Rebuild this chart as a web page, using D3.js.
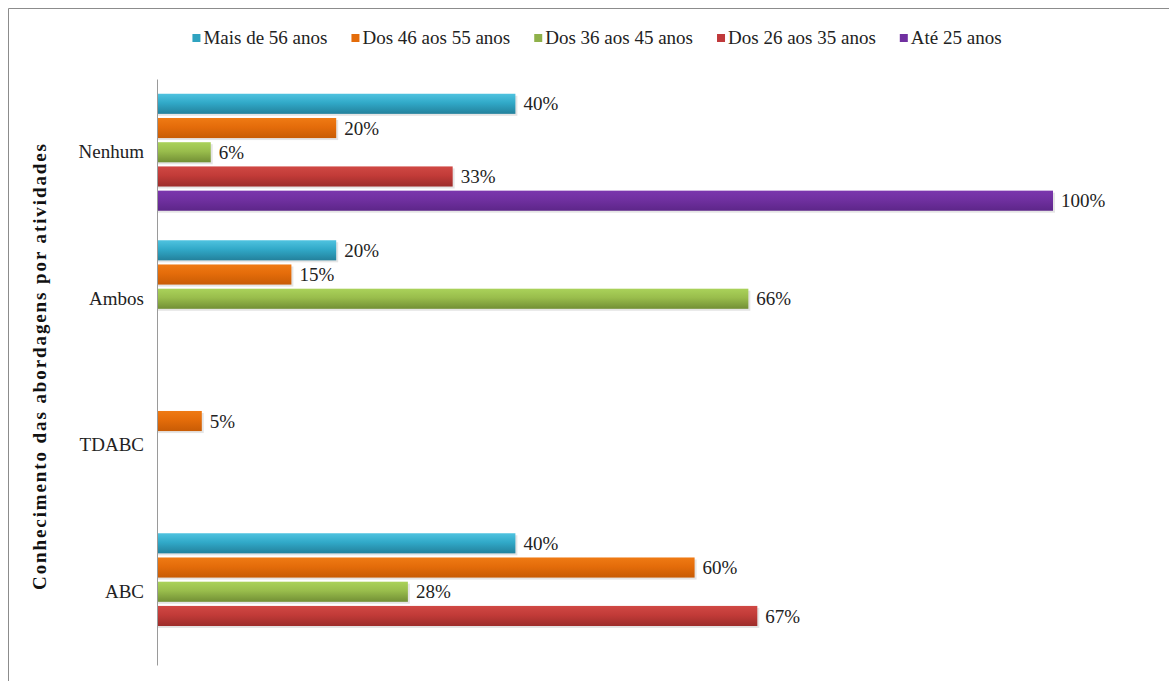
<!DOCTYPE html>
<html>
<head>
<meta charset="utf-8">
<script src="https://cdn.jsdelivr.net/npm/d3@7"></script>
</head>
<body style="margin:0">
<div style="font-family:'Liberation Serif';position:absolute;left:-5000px;top:0;visibility:hidden">Aa <b>Aa</b></div>
<svg id="chart" width="1169" height="681" font-family="Liberation Serif"></svg>
<script>
const categories = ['Nenhum', 'Ambos', 'TDABC', 'ABC']
const seriesNames = ['Mais de 56 anos', 'Dos 46 aos 55 anos', 'Dos 36 aos 45 anos', 'Dos 26 aos 35 anos', 'Até 25 anos']
// values per series, in the order of categories (null = no bar)
const mais56 = [0.40, 0.20, null, 0.40]
const dos46a55 = [0.20, 0.15, 0.05, 0.60]
const dos36a45 = [0.06, 0.66, null, 0.28]
const dos26a35 = [0.33, null, null, 0.67]
const ate25 = [1.00, null, null, null]
const seriesValues = [mais56, dos46a55, dos36a45, dos26a35, ate25]
const axisTitle = 'Conhecimento das abordagens por atividades'

const FONT = 'Liberation Serif'

const colors = [
  { top: '#4fc3e0', mid: '#31a9c8', bot: '#23819c', key: '#2fa3c0' },
  { top: '#ef7a14', mid: '#e46c0a', bot: '#c85c05', key: '#e46c0a' },
  { top: '#aad25a', mid: '#99bd4c', bot: '#728f35', key: '#8fb14a' },
  { top: '#d04844', mid: '#c23b38', bot: '#9c2c2a', key: '#c0393b' },
  { top: '#7b36ad', mid: '#7030a0', bot: '#5d2689', key: '#7030a0' }
]

const width = 1169, height = 681

const svg = d3.select('#chart')

const defs = svg.append('defs')
colors.forEach(function (c, i) {
  const g = defs.append('linearGradient').attr('id', 'grad' + i)
    .attr('x1', 0).attr('y1', 0).attr('x2', 0).attr('y2', 1)
  g.append('stop').attr('offset', '0%').attr('stop-color', c.top)
  g.append('stop').attr('offset', '45%').attr('stop-color', c.mid)
  g.append('stop').attr('offset', '100%').attr('stop-color', c.bot)
})

// chart frame (only top and left edges are visible)
svg.append('path')
  .attr('d', 'M8.5,' + height + 'V8.5H' + width)
  .attr('fill', 'none')
  .attr('stroke', '#8c8c8c')
  .attr('stroke-width', 1)

const x = d3.scaleLinear().domain([0, 1]).range([157, 1053])
const y = d3.scaleBand().domain(categories).range([79, 665])
const inner = d3.scaleBand().domain(seriesNames).range([-58.5, 58.5]).paddingInner(0.17)

const rows = []
seriesNames.forEach(function (s, si) {
  categories.forEach(function (c, ci) {
    const v = seriesValues[si][ci]
    if (v !== null) rows.push({ series: s, si: si, cat: c, value: v })
  })
})

function barY(d) { return y(d.cat) + y.bandwidth() / 2 + inner(d.series) }

const bars = svg.append('g')
// soft shadow under each bar
bars.selectAll('rect.shadow')
  .data(rows)
  .enter()
  .append('rect')
  .attr('class', 'shadow')
  .attr('x', x(0) + 1)
  .attr('y', function (d) { return barY(d) + 2 })
  .attr('width', function (d) { return x(d.value) - x(0) + 1 })
  .attr('height', inner.bandwidth())
  .attr('fill', '#000')
  .attr('opacity', 0.1)

bars.selectAll('rect.bar')
  .data(rows)
  .enter()
  .append('rect')
  .attr('class', 'bar')
  .attr('x', x(0))
  .attr('y', barY)
  .attr('width', function (d) { return x(d.value) - x(0) })
  .attr('height', inner.bandwidth())
  .attr('fill', function (d) { return 'url(#grad' + d.si + ')' })

bars.selectAll('text')
  .data(rows)
  .enter()
  .append('text')
  .attr('x', function (d) { return x(d.value) + 8 })
  .attr('y', function (d) { return barY(d) + inner.bandwidth() / 2 })
  .attr('dy', '0.35em')
  .attr('font-family', FONT)
  .attr('font-size', 19)
  .attr('fill', '#222')
  .text(function (d) { return Math.round(d.value * 100) + '%' })

// category axis
const axis = svg.append('g')
  .attr('transform', 'translate(' + x(0) + ',0)')
  .call(d3.axisLeft(y).tickSize(0).tickPadding(13))
axis.attr('font-family', FONT).attr('font-size', 19)
axis.select('.domain').attr('stroke', '#9a9a9a')
axis.selectAll('text').attr('fill', '#222')

// axis title
svg.append('text')
  .attr('transform', 'translate(46,367) rotate(-90)')
  .attr('text-anchor', 'middle')
  .attr('font-family', FONT)
  .attr('font-size', 19)
  .attr('font-weight', 'bold')
  .attr('fill', '#111')
  .attr('textLength', 446)
  .attr('lengthAdjust', 'spacing')
  .text(axisTitle)

// legend
const legend = svg.append('g')
const items = legend.selectAll('g')
  .data(seriesNames)
  .enter()
  .append('g')
items.append('rect')
  .attr('width', 8).attr('height', 8)
  .attr('y', 34)
  .attr('fill', function (d, i) { return colors[i].key })
items.append('text')
  .attr('x', 11)
  .attr('y', 44)
  .attr('font-family', FONT)
  .attr('font-size', 19)
  .attr('fill', '#222')
  .text(function (d) { return d })

const gap = 24
const widths = []
items.select('text').each(function () { widths.push(11 + this.getComputedTextLength()) })
const total = d3.sum(widths) + gap * (widths.length - 1)
let cursor = 597 - total / 2
const offs = widths.map(function (w) { const o = cursor; cursor += w + gap; return o })
items.attr('transform', function (d, i) { return 'translate(' + offs[i] + ',0)' })
</script>
</body>
</html>
